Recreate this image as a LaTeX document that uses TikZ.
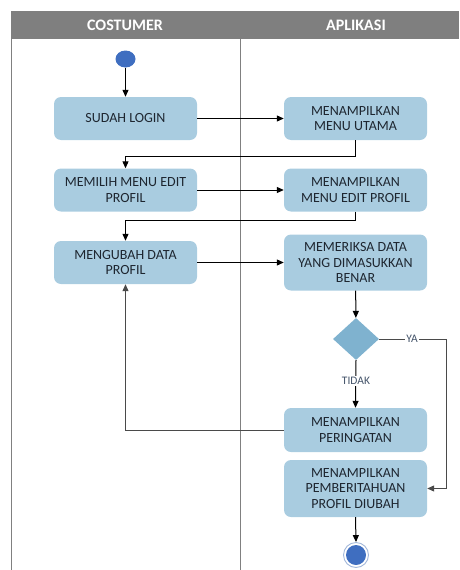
\documentclass[tikz,border=0pt]{standalone}
\usepackage{fontspec}
\setmainfont{Carlito}
\usetikzlibrary{shapes.geometric,arrows.meta}
\definecolor{headgray}{HTML}{7F7F7F}
\definecolor{lanegray}{HTML}{808080}
\definecolor{boxblue}{HTML}{A9CCE0}
\definecolor{diablue}{HTML}{7FB2CF}
\definecolor{dotblue}{HTML}{3F6EC0}
\definecolor{ringblue}{HTML}{A3B8DA}
\definecolor{labelblue}{HTML}{44546A}
\definecolor{boxtext}{HTML}{1E2630}
\definecolor{yaline}{HTML}{4A4A4A}
\tikzset{
  lane/.style={draw=lanegray, line width=0.8pt},
  headtext/.style={text=white, font=\fontsize{16}{18}\selectfont\bfseries},
  actbox/.style={rectangle, rounded corners=7pt, fill=boxblue, draw=none,
    minimum width=143pt, inner sep=0pt, align=center, text=boxtext,
    font=\fontsize{14}{15.7}\selectfont},
  decision/.style={diamond, fill=diablue, draw=none, inner sep=0pt,
    minimum width=46pt, minimum height=42pt},
  flow/.style={draw=black, line width=1pt, -{Triangle[length=7pt,width=6pt]}},
  guard/.style={text=labelblue, font=\fontsize{11.5}{13}\selectfont, fill=white, inner sep=1pt}
}
\begin{document}
\begin{tikzpicture}[x=1pt,y=-1pt]
\useasboundingbox (0,0) rectangle (459,570);
% swimlane header and lane borders
\fill[headgray] (11,11) rectangle (459,39);
\node[headtext] (hcust) at (125,25) {COSTUMER};
\node[headtext] (happ) at (356,25) {APLIKASI};
\draw[lane] (11,39) -- (11,570);
\draw[lane] (240,39) -- (240,570);

% start state
\node[ellipse, fill=dotblue, minimum width=20pt, minimum height=17pt, inner sep=0pt] (start) at (125.5,59) {};

% activities
\node[actbox, minimum height=43pt] (login) at (125.5,118.5) {SUDAH LOGIN};
\node[actbox, minimum height=43pt] (utama) at (355.5,118.5) {MENAMPILKAN\\MENU UTAMA};
\node[actbox, minimum height=43pt] (pilih) at (125.5,190) {MEMILIH MENU EDIT\\PROFIL};
\node[actbox, minimum height=43pt] (tampil) at (355.5,190) {MENAMPILKAN\\MENU EDIT PROFIL};
\node[actbox, minimum height=43pt] (ubah) at (125.5,262.5) {MENGUBAH DATA\\PROFIL};
\node[actbox, minimum height=56pt] (periksa) at (355.5,262.5) {MEMERIKSA DATA\\YANG DIMASUKKAN\\BENAR};
\node[decision] (cek) at (356,339) {};
\node[actbox, minimum height=44pt] (warn) at (355.5,430) {MENAMPILKAN\\PERINGATAN};
\node[actbox, minimum height=57pt] (notif) at (355.5,488.5) {MENAMPILKAN\\PEMBERITAHUAN\\PROFIL DIUBAH};

% final state
\node[circle, draw=ringblue, line width=0.9pt, minimum size=25pt, inner sep=0pt] (finish) at (356,555) {};
\node[circle, fill=dotblue, minimum size=20pt, inner sep=0pt] (finishdot) at (finish) {};

% flows
\draw[flow] (start) -- (login);
\draw[flow] (login) -- (utama);
\draw[flow] (utama.south) -- ++(0,16.5) -| (pilih.north);
\draw[flow] (pilih) -- (tampil);
\draw[flow] (tampil.south) -- ++(0,9) -| (ubah.north);
\draw[flow] (ubah) -- (periksa);
\draw[flow] (periksa) -- (cek);
\coordinate (yaturn) at (446,339);
\draw[flow, draw=yaline] (cek.east) -- (yaturn) |- (notif.east);
\node[guard] (ya) at (412,339) {YA};
\draw[flow] (cek.south) -- (warn.north);
\node[guard] (tidak) at (356,381) {TIDAK};
\draw[flow, draw=yaline] (warn.west) -| (ubah.south);
\draw[flow] (notif.south) -- (finish.north);
\end{tikzpicture}
\end{document}
